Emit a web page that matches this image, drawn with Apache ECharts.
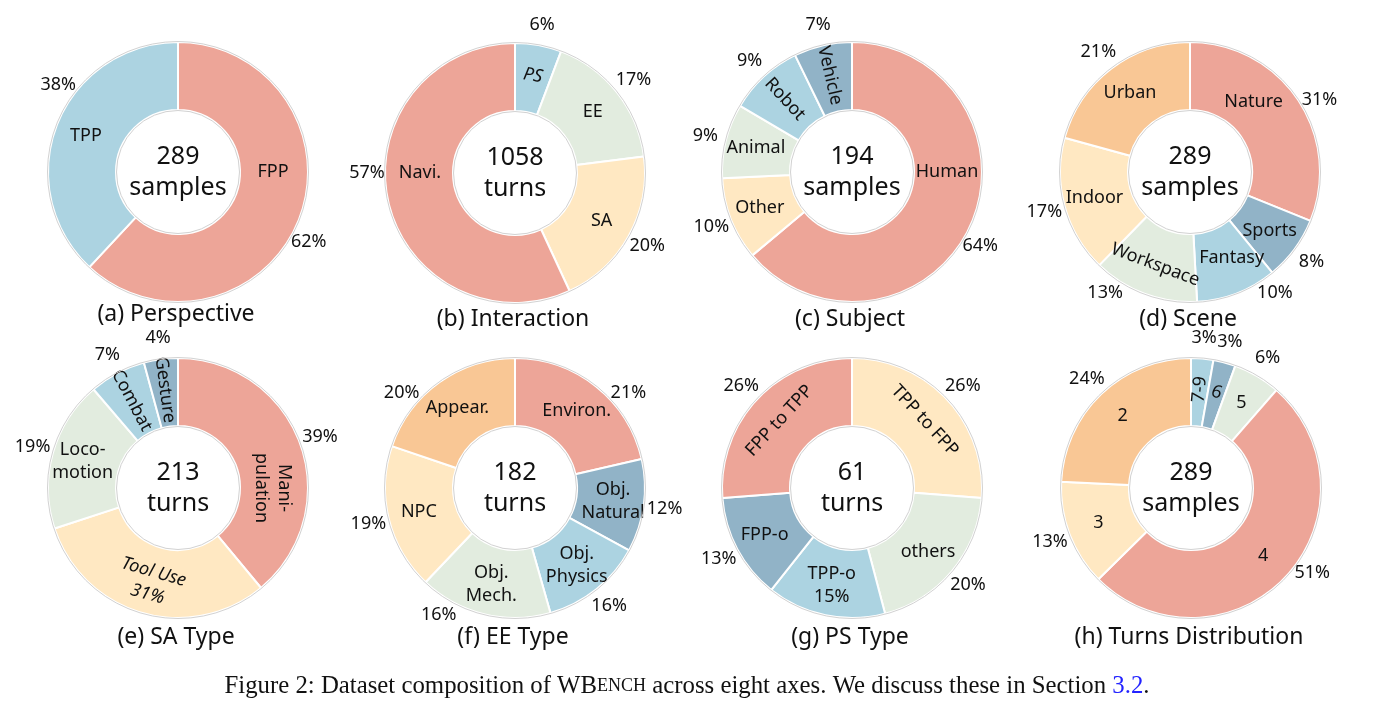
<!DOCTYPE html>
<html>
<head>
<meta charset="utf-8">
<script src="https://cdn.jsdelivr.net/npm/echarts@6/dist/echarts.min.js"></script>
<style>
html, body { margin: 0; padding: 0; background: #fff; }
#main { width: 1373px; height: 713px; }
</style>
</head>
<body>
<div id="main"></div>
<script>
// ---- data (counts chosen so totals match the centre numbers) ----
var perspNames = ['FPP', 'TPP'];
var perspValues = [179, 110];
var perspPct = ['62%', '38%'];

var interNames = ['PS', 'EE', 'SA', 'Navi.'];
var interValues = [61, 182, 213, 602];
var interPct = ['6%', '17%', '20%', '57%'];

var subjNames = ['Human', 'Other', 'Animal', 'Robot', 'Vehicle'];
var subjValues = [124, 20, 18, 18, 14];
var subjPct = ['64%', '10%', '9%', '9%', '7%'];

var sceneNames = ['Nature', 'Sports', 'Fantasy', 'Workspace', 'Indoor', 'Urban'];
var sceneValues = [90, 23, 29, 38, 49, 60];
var scenePct = ['31%', '8%', '10%', '13%', '17%', '21%'];

var saNames = ['Mani-\npulation', 'Tool Use', 'Loco-\nmotion', 'Combat', 'Gesture'];
var saValues = [83, 66, 40, 15, 9];
var saPct = ['39%', '31%', '19%', '7%', '4%'];

var eeNames = ['Environ.', 'Obj.\nNatural', 'Obj.\nPhysics', 'Obj.\nMech.', 'NPC', 'Appear.'];
var eeValues = [39, 21, 23, 30, 33, 36];
var eePct = ['21%', '12%', '16%', '16%', '19%', '20%'];

var psNames = ['TPP to FPP', 'others', 'TPP-o', 'FPP-o', 'FPP to TPP'];
var psValues = [16, 12, 9, 8, 16];
var psPct = ['26%', '20%', '15%', '13%', '26%'];

var turnNames = ['7-9', '6', '5', '4', '3', '2'];
var turnValues = [8, 8, 17, 148, 38, 70];
var turnPct = ['3%', '3%', '6%', '51%', '13%', '24%'];

// ---- styling / layout ----
var C = {
  red: '#EDA598', blue: '#ACD3E1', green: '#E2ECDF',
  yellow: '#FFE8C2', steel: '#91B3C7', orange: '#F9C795'
};
var FONT = '"Noto Sans", "Open Sans", sans-serif';

// nameAt / pctAt: label angles (deg clockwise from 12 o'clock) where the figure moved a label off the slice middle
var panels = [
  { title: '(a) Perspective', unit: 'samples', names: perspNames, values: perspValues, pct: perspPct,
    colors: [C.red, C.blue], cx: 178, cy: 172, ty: 314,
    nameAt: { 0: 90 }, pctAt: { 0: 118, 1: 306 } },
  { title: '(b) Interaction', unit: 'turns', names: interNames, values: interValues, pct: interPct,
    colors: [C.blue, C.green, C.yellow, C.red], cx: 515, cy: 173, ty: 319,
    rot: { 0: 'tangential' }, italic: { 0: true },
    nameAt: { 3: 270 }, pctAt: { 3: 270 } },
  { title: '(c) Subject', unit: 'samples', names: subjNames, values: subjValues, pct: subjPct,
    colors: [C.red, C.yellow, C.green, C.blue, C.steel], cx: 852, cy: 172, ty: 319,
    rot: { 3: 'radial', 4: 'radial' },
    nameAt: { 0: 90 }, pctAt: { 0: 120 } },
  { title: '(d) Scene', unit: 'samples', names: sceneNames, values: sceneValues, pct: scenePct,
    colors: [C.red, C.steel, C.blue, C.green, C.yellow, C.orange], cx: 1190, cy: 172, ty: 319,
    rot: { 3: 'tangential' },
    nameAt: { 0: 42, 2: 154 }, pctAt: { 0: 61, 2: 145, 3: 215 } },
  { title: '(e) SA Type', unit: 'turns', names: saNames, values: saValues, pct: saPct,
    colors: [C.red, C.yellow, C.green, C.blue, C.steel], cx: 178, cy: 488, ty: 637,
    rot: { 0: -90, 1: 'tangential', 3: 'radial', 4: 'radial' }, inner: { 1: true }, italic: { 1: true },
    nameAt: { 0: 90 } },
  { title: '(f) EE Type', unit: 'turns', names: eeNames, values: eeValues, pct: eePct,
    colors: [C.red, C.steel, C.blue, C.green, C.yellow, C.orange], cx: 515, cy: 488, ty: 637,
    pctAt: { 0: 50, 3: 211, 5: 310 } },
  { title: '(g) PS Type', unit: 'turns', names: psNames, values: psValues, pct: psPct,
    colors: [C.yellow, C.green, C.blue, C.steel, C.red], cx: 852, cy: 488, ty: 637,
    rot: { 0: 'tangential', 4: 'tangential' }, inner: { 2: true } },
  { title: '(h) Turns Distribution', unit: 'samples', names: turnNames, values: turnValues, pct: turnPct,
    colors: [C.blue, C.steel, C.green, C.red, C.yellow, C.orange], cx: 1191, cy: 488, ty: 637,
    rot: { 0: 'radial', 1: -20 }, pctAt: { 3: 125 } }
];

var R0 = 62, R1 = 130;
var series = [];
var graphics = [];

function moveTo(p, at, r) {
  return function (params) {
    var a = at[params.dataIndex];
    if (a === undefined) return {};
    var rad = a * Math.PI / 180;
    return { x: p.cx + r * Math.sin(rad), y: p.cy - r * Math.cos(rad) };
  };
}

panels.forEach(function (p) {
  var total = p.values.reduce(function (a, b) { return a + b; }, 0);
  var rot = p.rot || {}, inner = p.inner || {}, italic = p.italic || {};

  var sliceData = p.names.map(function (n, i) {
    var lab = { formatter: inner[i] ? n + '\n' + p.pct[i] : n };
    if (rot[i] !== undefined) lab.rotate = rot[i];
    if (italic[i]) lab.fontStyle = 'italic';
    return { name: n, value: p.values[i], itemStyle: { color: p.colors[i] }, label: lab };
  });
  series.push({
    type: 'pie', center: [p.cx, p.cy], radius: [R0, R1],
    startAngle: 90, clockwise: true, avoidLabelOverlap: false, silent: true,
    itemStyle: { borderColor: '#fff', borderWidth: 2 },
    label: { show: true, position: 'inside', color: '#111', fontFamily: FONT, fontSize: 18, lineHeight: 23 },
    labelLine: { show: false },
    labelLayout: moveTo(p, p.nameAt || {}, 95),
    emphasis: { disabled: true },
    data: sliceData
  });

  // percentages around the ring
  var pctData = p.names.map(function (n, i) {
    return { name: n, value: p.values[i], label: { formatter: inner[i] ? '' : p.pct[i] } };
  });
  series.push({
    type: 'pie', center: [p.cx, p.cy], radius: [138, 158],
    startAngle: 90, clockwise: true, avoidLabelOverlap: false, silent: true,
    itemStyle: { color: 'rgba(0,0,0,0)' },
    label: { show: true, position: 'inside', color: '#111', fontFamily: FONT, fontSize: 18 },
    labelLine: { show: false },
    labelLayout: moveTo(p, p.pctAt || {}, 148),
    emphasis: { disabled: true },
    data: pctData
  });

  // thin grey outline of the ring
  series.push({
    type: 'pie', center: [p.cx, p.cy], radius: [R0 - 0.5, R1 + 0.5], z: 3,
    silent: true, label: { show: false }, labelLine: { show: false },
    emphasis: { disabled: true },
    itemStyle: { color: 'rgba(0,0,0,0)', borderColor: '#d2d2d2', borderWidth: 1 },
    data: [{ value: 1, name: '' }]
  });

  graphics.push({
    type: 'text', x: p.cx, y: p.cy, z: 10,
    style: { text: total + '\n' + p.unit, align: 'center', verticalAlign: 'middle',
      font: '25px ' + FONT, lineHeight: 31, fill: '#111' }
  });
  graphics.push({
    type: 'text', x: p.cx - 2, y: p.ty, z: 10,
    style: { text: p.title, align: 'center', verticalAlign: 'middle',
      font: '23px ' + FONT, fill: '#111' }
  });
});

var SERIF = '"Liberation Serif", "Times New Roman", serif';
graphics.push({
  type: 'text', x: 687, y: 686, z: 10,
  style: {
    text: '{n|Figure 2: Dataset composition of WB}{s|ENCH}{n| across eight axes. We discuss these in Section }{l|3.2}{n|.}',
    align: 'center', verticalAlign: 'middle',
    rich: {
      n: { fontFamily: SERIF, fontSize: 24.8, fill: '#111' },
      s: { fontFamily: SERIF, fontSize: 18, fill: '#111' },
      l: { fontFamily: SERIF, fontSize: 24.8, fill: '#2323ff' }
    }
  }
});

var chart = echarts.init(document.getElementById('main'), null, { renderer: 'canvas' });
chart.setOption({
  backgroundColor: '#fff',
  animation: false,
  series: series,
  graphic: graphics
});
</script>
</body>
</html>
